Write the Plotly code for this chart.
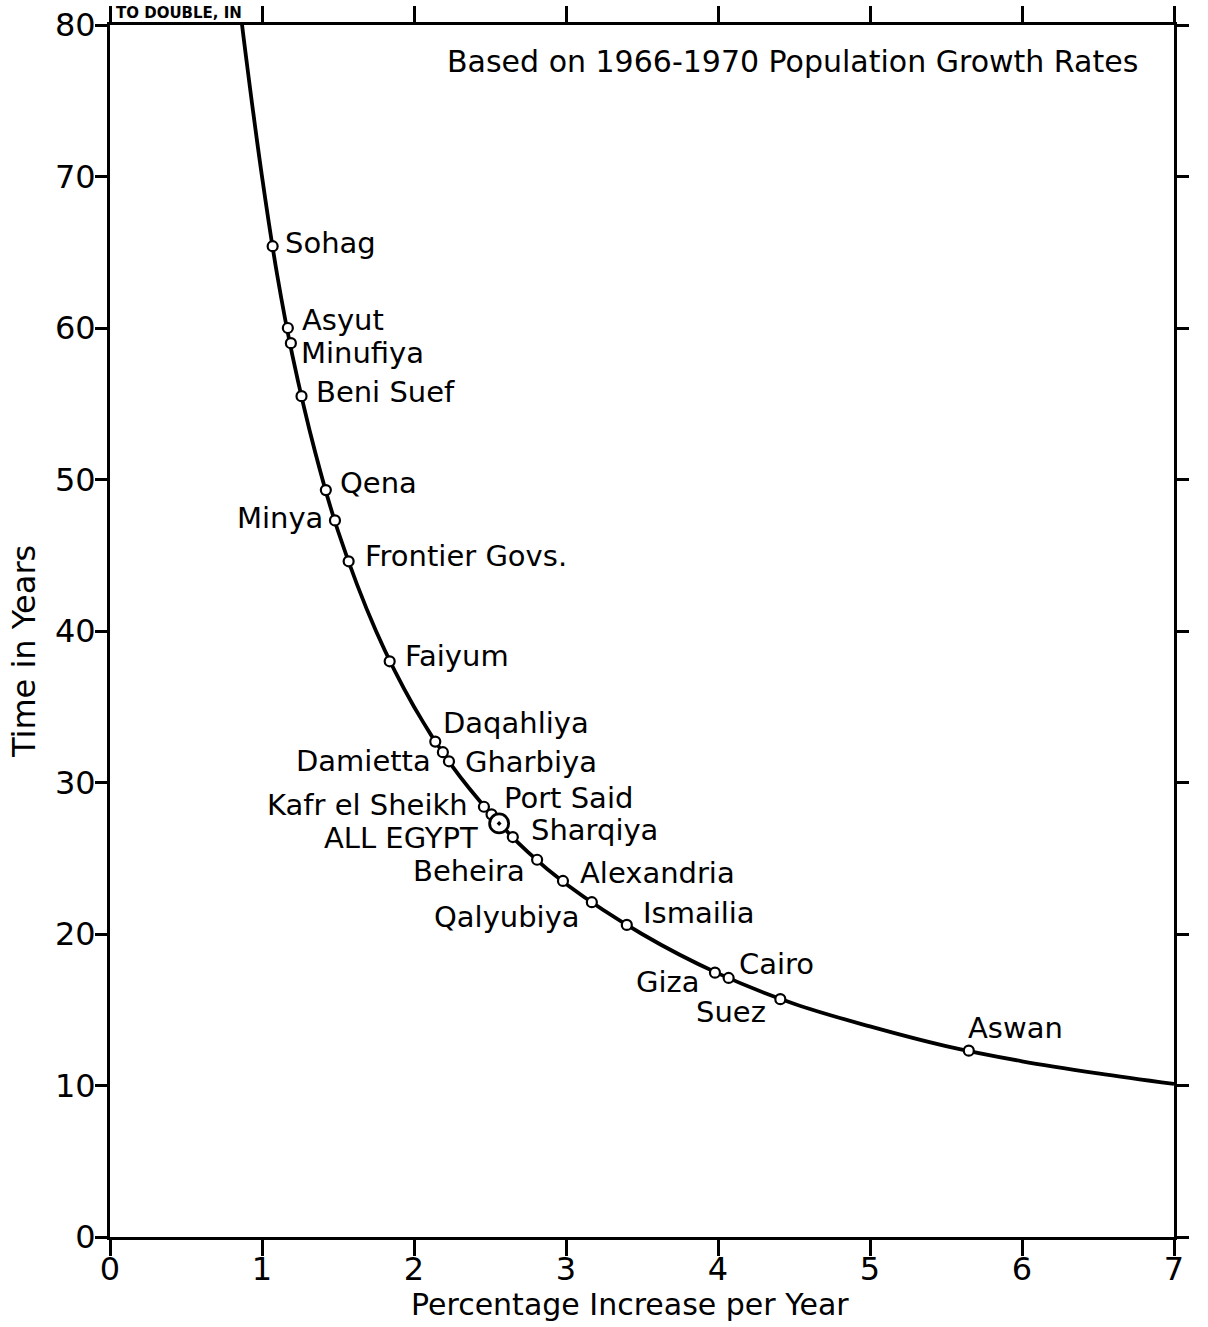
import plotly.graph_objects as go

# ---- data ----
place_names = ["Sohag", "Asyut", "Minufiya", "Beni Suef", "Qena", "Minya",
               "Frontier Govs.", "Faiyum", "Daqahliya", "Damietta", "Gharbiya",
               "Kafr el Sheikh", "Port Said", "Sharqiya", "Beheira",
               "Alexandria", "Qalyubiya", "Ismailia", "Giza", "Cairo", "Suez", "Aswan"]
growth_rate = [1.07, 1.17, 1.19, 1.26, 1.42, 1.48, 1.57, 1.84, 2.14, 2.19, 2.23,
               2.46, 2.51, 2.65, 2.81, 2.98, 3.17, 3.40, 3.98, 4.07, 4.41, 5.65]
doubling_years = [65.4, 60.0, 59.0, 55.5, 49.3, 47.3, 44.6, 38.0, 32.7, 32.0, 31.4,
                  28.4, 27.9, 26.4, 24.9, 23.5, 22.1, 20.6, 17.45, 17.1, 15.7, 12.3]

egypt_name = "ALL EGYPT"
egypt_rate = [2.56]
egypt_years = [27.3]

curve_rate = [0.80, 0.84, 0.90, 1.00, 1.10, 1.20, 1.35, 1.50, 1.75, 2.00, 2.25,
              2.50, 2.75, 3.00, 3.50, 4.00, 4.50, 5.00, 5.50, 6.00, 6.50, 7.00]
curve_years = [87.0, 82.5, 77.5, 70.0, 63.5, 58.2, 51.8, 46.6, 40.0, 35.0, 31.1,
               28.0, 25.4, 23.3, 20.0, 17.4, 15.4, 13.9, 12.6, 11.6, 10.8, 10.1]

x_ticks = [0, 1, 2, 3, 4, 5, 6, 7]
y_ticks = [0, 10, 20, 30, 40, 50, 60, 70, 80]

# label placement (pixel offsets from each point): (xanchor, xshift, yshift)
label_pos = {
    "Sohag": ("left", 10, 3), "Asyut": ("left", 12, 8), "Minufiya": ("left", 8, -10),
    "Beni Suef": ("left", 12, 4), "Qena": ("left", 12, 7), "Minya": ("right", -10, 2),
    "Frontier Govs.": ("left", 14, 5), "Faiyum": ("left", 13, 5),
    "Daqahliya": ("left", 6, 19), "Damietta": ("right", -10, -9),
    "Gharbiya": ("left", 14, -1), "Kafr el Sheikh": ("right", -14, 2),
    "Port Said": ("left", 10, 16), "Sharqiya": ("left", 16, 7),
    "Beheira": ("right", -10, -11), "Alexandria": ("left", 15, 8),
    "Qalyubiya": ("right", -10, -15), "Ismailia": ("left", 14, 12),
    "Giza": ("right", -13, -9), "Cairo": ("left", 8, 14),
    "Suez": ("right", -12, -13), "Aswan": ("left", -3, 23),
}

FONT = "DejaVu Sans"
L, R, T, B = 110, 34, 25, 90
W, H = 1208, 1327
PH = H - T - B
PW = W - L - R

fig = go.Figure()
fig.add_trace(go.Scatter(x=curve_rate, y=curve_years, mode="lines",
                         line=dict(color="black", width=3.8, shape="spline"),
                         hoverinfo="skip", showlegend=False))
fig.add_trace(go.Scatter(x=growth_rate, y=doubling_years, mode="markers",
                         marker=dict(symbol="circle", size=10, color="white",
                                     line=dict(color="black", width=2.2)),
                         text=place_names, showlegend=False))
fig.add_trace(go.Scatter(x=egypt_rate, y=egypt_years, mode="markers",
                         marker=dict(symbol="circle-dot", size=19, color="white",
                                     line=dict(color="black", width=2.8)),
                         text=[egypt_name], showlegend=False))

annotations = []
for name, xv, yv in zip(place_names, growth_rate, doubling_years):
    anc, dx, dy = label_pos[name]
    annotations.append(dict(x=xv, y=yv, text=name, showarrow=False, xanchor=anc,
                            yanchor="middle", xshift=dx, yshift=dy,
                            font=dict(family=FONT, size=29, color="black")))
annotations.append(dict(x=egypt_rate[0], y=egypt_years[0], text=egypt_name,
                        showarrow=False, xanchor="right", yanchor="middle",
                        xshift=-19, yshift=-15,
                        font=dict(family=FONT, size=29, color="black")))
annotations.append(dict(x=(1140 - L) / PW, y=(H - B - 62) / PH,
                        xref="paper", yref="paper",
                        text="Based on 1966-1970 Population Growth Rates",
                        showarrow=False, xanchor="right", yanchor="middle",
                        font=dict(family=FONT, size=30, color="black")))
annotations.append(dict(x=(114 - L) / PW, y=(H - B - 24) / PH, xref="paper", yref="paper",
                        text="<b>TO DOUBLE, IN</b>", showarrow=False,
                        xanchor="left", yanchor="bottom",
                        font=dict(family=FONT, size=15, color="black")))
# axis titles
annotations.append(dict(x=(630 - L) / PW, y=(H - B - 1304) / PH,
                        xref="paper", yref="paper",
                        text="Percentage Increase per Year", showarrow=False,
                        xanchor="center", yanchor="middle",
                        font=dict(family=FONT, size=30, color="black")))
annotations.append(dict(x=(24 - L) / PW, y=(H - B - 652) / PH,
                        xref="paper", yref="paper", textangle=-90,
                        text="Time in Years", showarrow=False,
                        xanchor="center", yanchor="middle",
                        font=dict(family=FONT, size=32, color="black")))

fig.update_layout(
    width=W, height=H,
    margin=dict(l=L, r=R, t=T, b=B),
    paper_bgcolor="white", plot_bgcolor="white",
    annotations=annotations,
    xaxis=dict(range=[0, 7], tickvals=x_ticks, ticktext=[str(v) for v in x_ticks],
               automargin=False,
               showgrid=False, zeroline=False, showline=True, linecolor="black",
               linewidth=3, mirror="allticks", ticks="outside", ticklen=16,
               tickwidth=2.5, tickcolor="black", ticklabelstandoff=-14,
               tickfont=dict(family=FONT, size=32, color="black")),
    yaxis=dict(range=[0, 80], tickvals=y_ticks, ticktext=[str(v) for v in y_ticks],
               automargin=False,
               showgrid=False, zeroline=False, showline=True, linecolor="black",
               linewidth=3, mirror="allticks", ticks="outside", ticklen=12,
               tickwidth=2.5, tickcolor="black", ticklabelstandoff=-7,
               tickfont=dict(family=FONT, size=32, color="black")),
)

fig.write_html("out.html",
               config={"displayModeBar": False},
               post_script="document.body.style.margin='0';"
                           "document.body.style.overflow='hidden';")
